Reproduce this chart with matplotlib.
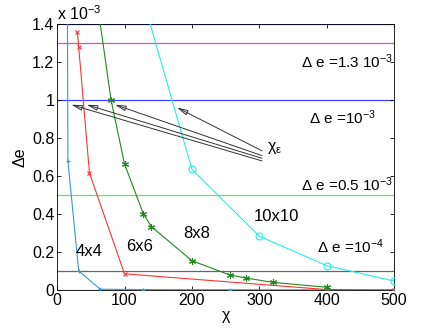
import numpy as np
import matplotlib
matplotlib.use("Agg")
import matplotlib.pyplot as plt

# Delta e values are in units of 1e-3
chi_4x4 = [14, 16, 32, 64, 128, 256, 400, 500]
de_4x4 = [3.0, 0.68, 0.10, 0.004, 0.002, 0.001, 0.0005, 0.0]

chi_6x6 = [30, 32, 48, 100, 400, 500]
de_6x6 = [1.355, 1.28, 0.615, 0.085, 0.002, 0.0]

chi_8x8 = [50, 80, 100, 128, 140, 200, 256, 280, 320, 400]
de_8x8 = [1.75, 1.0, 0.663, 0.40, 0.333, 0.154, 0.079, 0.063, 0.04, 0.014]

chi_10x10 = [100, 200, 300, 400, 500]
de_10x10 = [1.87, 0.635, 0.283, 0.128, 0.047]

# thresholds (units of 1e-3)
thresholds = [1.4, 1.3, 1.0, 0.5, 0.1, 0.0]
threshold_colors = ["#4040ff", "#cc55cc", "#4040ff", "#55ee55", "#666666", "#666666"]

# arrows towards chi_eps points (tail -> head)
arrow_heads_x = [21, 44, 86, 178]
arrow_heads_y = [0.975, 0.975, 0.975, 0.96]
arrow_tails_y = [0.679, 0.693, 0.707, 0.732]
arrow_tail_x = 304

plt.rcParams["font.family"] = "Liberation Sans"
plt.rcParams["mathtext.default"] = "regular"
plt.rcParams["font.size"] = 11

fig = plt.figure(figsize=(4.36, 3.28), dpi=100)
ax = fig.add_axes([0.131, 0.116, 0.773, 0.811])

for y, c in zip(thresholds, threshold_colors):
    ax.axhline(y, color=c, lw=0.9, zorder=1)

ax.plot(chi_4x4, de_4x4, color="#3399dd", lw=0.8, marker="+", ms=3, mew=0.8, zorder=3)
ax.plot(chi_6x6, de_6x6, color="#ff3333", lw=0.8, marker="x", ms=3.5, mew=0.8, zorder=3)
ax.plot(chi_8x8, de_8x8, color="#228822", lw=0.8, marker=(6, 2, 0), ms=5, mew=0.8, zorder=3)
ax.plot(chi_10x10, de_10x10, color="#22eeee", lw=0.8, marker="o", ms=5, mfc="none", mew=0.8, zorder=3)

for hx, hy, ty in zip(arrow_heads_x, arrow_heads_y, arrow_tails_y):
    ax.annotate("", xy=(hx, hy), xytext=(arrow_tail_x, ty),
                arrowprops=dict(arrowstyle="-|>,head_length=0.6,head_width=0.15",
                                color="#333333", lw=0.7, shrinkA=0, shrinkB=0,
                                fc="none"), zorder=4)

ax.text(312, 0.745, "χ$_ε$", fontsize=11.5, va="center", ha="left")
ax.text(498, 1.2, "Δ e =1.3 10$^{-3}$", ha="right", va="center")
ax.text(423, 0.905, "Δ e =10$^{-3}$", ha="center", va="center")
ax.text(498, 0.555, "Δ e =0.5 10$^{-3}$", ha="right", va="center")
ax.text(435, 0.226, "Δ e =10$^{-4}$", ha="center", va="center")
ax.text(48, 0.20, "4x4", ha="center", va="center", fontsize=12)
ax.text(122, 0.23, "6x6", ha="center", va="center", fontsize=12)
ax.text(207, 0.295, "8x8", ha="center", va="center", fontsize=12)
ax.text(325, 0.384, "10x10", ha="center", va="center", fontsize=12)

ax.set_xlim(0, 500)
ax.set_ylim(0, 1.4)
ax.set_xticks([0, 100, 200, 300, 400, 500])
ax.set_yticks([0, 0.2, 0.4, 0.6, 0.8, 1.0, 1.2, 1.4])
ax.set_yticklabels(["0", "0.2", "0.4", "0.6", "0.8", "1", "1.2", "1.4"])
ax.tick_params(direction="in", length=3, width=0.6, labelsize=11.5, pad=2)
ax.tick_params(axis="y", right=True)
ax.tick_params(axis="x", top=True)
for s in ax.spines.values():
    s.set_linewidth(0.6)
ax.text(0.0, 1.005, "x 10$^{-3}$", transform=ax.transAxes, ha="left", va="bottom", fontsize=11.5)
ax.set_xlabel("χ", fontsize=11.5, labelpad=0)
ax.set_ylabel("Δe", fontsize=11.5, labelpad=3)

fig.savefig("out.png", dpi=100)
